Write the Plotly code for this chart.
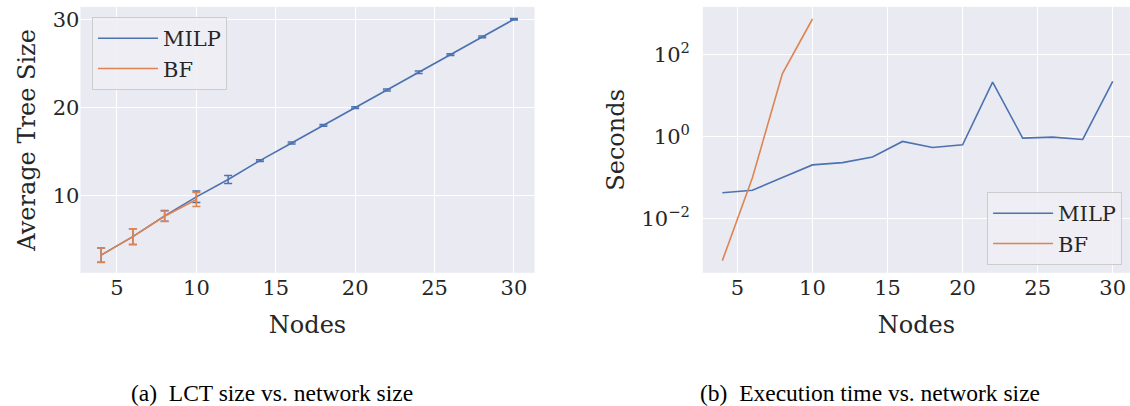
import plotly.graph_objects as go

nodes = [4, 6, 8, 10, 12, 14, 16, 18, 20, 22, 24, 26, 28, 30]
milp_size = [3.3, 5.4, 7.75, 9.9, 11.87, 14.0, 16.0, 18.0, 20.0, 22.0, 24.0, 26.0, 28.0, 30.0]
milp_size_err = [0.8, 0.9, 0.6, 0.65, 0.45, 0.1, 0.12, 0.1, 0.1, 0.12, 0.15, 0.1, 0.1, 0.08]
bf_nodes = [4, 6, 8, 10]
bf_size = [3.3, 5.4, 7.7, 9.6]
bf_size_err = [0.82, 0.9, 0.6, 0.8]

milp_time = [0.043, 0.0495, 0.102, 0.206, 0.234, 0.32, 0.77, 0.55, 0.64, 21.7, 0.93, 0.98, 0.86, 22.4]
bf_time = [0.00095, 0.1, 35, 750]

BLUE = "#4C72B0"
ORANGE = "#DD8452"
BG = "#EAEAF2"
TICKFONT = dict(family="DejaVu Serif", size=21, color="#262626")
LABELFONT = dict(family="DejaVu Serif", size=24, color="#262626")
LEGFONT = dict(family="DejaVu Serif", size=21, color="#262626")

fig = go.Figure()

fig.add_trace(go.Scatter(
    x=nodes, y=milp_size, mode="lines", name="MILP",
    line=dict(color=BLUE, width=1.6),
    error_y=dict(type="data", array=milp_size_err, color=BLUE, thickness=1.5, width=4),
    xaxis="x", yaxis="y", legend="legend"))
fig.add_trace(go.Scatter(
    x=bf_nodes, y=bf_size, mode="lines", name="BF",
    line=dict(color=ORANGE, width=1.6),
    error_y=dict(type="data", array=bf_size_err, color=ORANGE, thickness=1.5, width=4),
    xaxis="x", yaxis="y", legend="legend"))

fig.add_trace(go.Scatter(
    x=nodes, y=milp_time, mode="lines", name="MILP",
    line=dict(color=BLUE, width=1.6), xaxis="x2", yaxis="y2", legend="legend2"))
fig.add_trace(go.Scatter(
    x=bf_nodes, y=bf_time, mode="lines", name="BF",
    line=dict(color=ORANGE, width=1.6), xaxis="x2", yaxis="y2", legend="legend2"))

common_x = dict(tickvals=[5, 10, 15, 20, 25, 30], showgrid=True,
                gridcolor="white", gridwidth=1.2, zeroline=False, showline=False,
                ticks="", tickfont=TICKFONT, automargin=True,
                title=dict(text="Nodes", font=LABELFONT, standoff=17))

fig.update_layout(
    width=1130, height=406,
    paper_bgcolor="white", plot_bgcolor=BG,
    margin=dict(l=0, r=0, t=0, b=0, autoexpand=False),
    showlegend=True,
    xaxis=dict(domain=[0.0712, 0.4731], anchor="y", range=[2.7, 31.3], **common_x),
    yaxis=dict(domain=[0.328, 0.983], anchor="x", range=[1.3, 31.4], tickvals=[10, 20, 30],
               showgrid=True, gridcolor="white", gridwidth=1.2, zeroline=False, showline=False,
               ticks="", tickfont=TICKFONT, automargin=True,
               title=dict(text="Average Tree Size", font=LABELFONT, standoff=10)),
    xaxis2=dict(domain=[0.622, 1.0], anchor="y2", range=[2.7, 31.15], **common_x),
    yaxis2=dict(domain=[0.328, 0.983], anchor="x2", type="log", range=[-3.32, 3.17],
                tickvals=[0.01, 1, 100], ticktext=["10<sup>−2</sup>", "10<sup>0</sup>", "10<sup>2</sup>"],
                showgrid=True, gridcolor="white", gridwidth=1.2, zeroline=False, showline=False,
                ticks="", tickfont=TICKFONT, automargin=True, ticklabelstandoff=12,
                title=dict(text="Seconds", font=LABELFONT, standoff=10)),
    legend=dict(x=0.0814, y=0.958, xanchor="left", yanchor="top", itemwidth=60,
                bgcolor="rgba(238,238,244,0.85)", bordercolor="#CCCCCC", borderwidth=1,
                font=LEGFONT),
    legend2=dict(x=0.993, y=0.527, xanchor="right", yanchor="top", itemwidth=60,
                 bgcolor="rgba(238,238,244,0.85)", bordercolor="#CCCCCC", borderwidth=1,
                 font=LEGFONT),
    annotations=[
        dict(text="(a)  LCT size vs. network size", x=0.241, y=0.032, xref="paper", yref="paper",
             xanchor="center", yanchor="middle",
             showarrow=False, font=dict(family="Liberation Serif", size=23.5, color="black")),
        dict(text="(b)  Execution time vs. network size", x=0.770, y=0.032, xref="paper", yref="paper",
             xanchor="center", yanchor="middle",
             showarrow=False, font=dict(family="Liberation Serif", size=23.5, color="black")),
    ],
)

fig.write_html("out.html", config={"displayModeBar": False},
               post_script="document.body.style.margin='0';")
